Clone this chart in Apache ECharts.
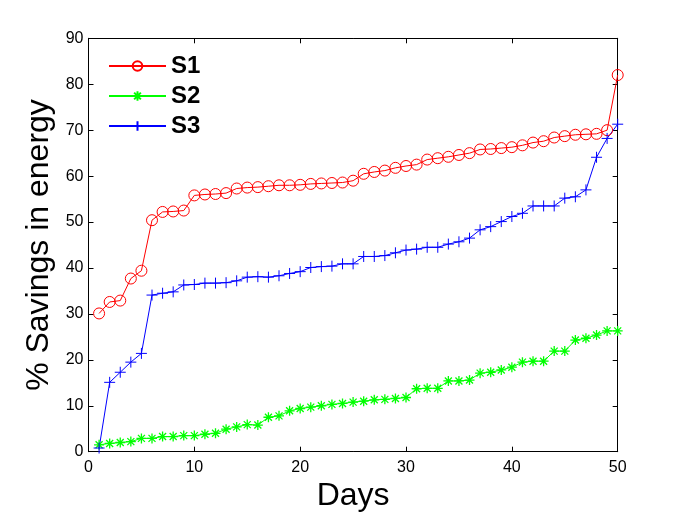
<!doctype html>
<html>
<head>
<meta charset="utf-8">
<title>Savings in energy</title>
<script src="https://cdn.jsdelivr.net/npm/echarts@6/dist/echarts.min.js"></script>
<style>
  html, body { margin: 0; padding: 0; background: #fff; }
  #chart { width: 682px; height: 513px; }
</style>
</head>
<body>
<div id="chart"></div>
<script>
var days = [];
for (var d = 1; d <= 50; d++) days.push(d);

var s1 = [30.1, 32.6, 32.9, 37.7, 39.4, 50.4, 52.2, 52.3, 52.5, 55.8,
          56.0, 56.1, 56.3, 57.3, 57.5, 57.6, 57.8, 58.0, 58.0, 58.1,
          58.3, 58.4, 58.5, 58.6, 59.0, 60.5, 60.9, 61.2, 61.8, 62.2,
          62.5, 63.6, 63.9, 64.2, 64.6, 65.0, 65.8, 65.9, 66.1, 66.3,
          66.7, 67.3, 67.6, 68.4, 68.7, 69.0, 69.1, 69.2, 70.0, 82.0];
var s2 = [1.5, 1.8, 2.0, 2.2, 2.9, 2.9, 3.3, 3.3, 3.5, 3.5,
          3.8, 4.0, 4.9, 5.4, 5.9, 5.8, 7.5, 7.8, 8.9, 9.4,
          9.7, 10.0, 10.3, 10.5, 10.8, 11.0, 11.3, 11.4, 11.6, 11.8,
          13.7, 13.8, 13.8, 15.4, 15.4, 15.6, 17.1, 17.3, 17.8, 18.4,
          19.5, 19.7, 19.7, 21.9, 21.9, 24.3, 24.7, 25.4, 26.3, 26.3];
var s3 = [0.8, 15.1, 17.3, 19.5, 21.4, 34.1, 34.5, 34.8, 36.3, 36.4,
          36.7, 36.7, 36.8, 37.2, 38.0, 38.1, 38.0, 38.3, 38.8, 39.2,
          40.1, 40.3, 40.4, 40.9, 40.9, 42.5, 42.5, 42.7, 43.3, 43.9,
          44.1, 44.5, 44.5, 45.2, 45.7, 46.5, 48.3, 49.0, 50.1, 51.2,
          51.9, 53.5, 53.5, 53.5, 55.2, 55.5, 57.0, 64.1, 68.2, 71.3];

var seriesNames = ["S1", "S2", "S3"];
var xTicks = { min: 0, max: 50, step: 10 };
var yTicks = { min: 0, max: 90, step: 10 };

function pairs(values) {
  return days.map(function (d, i) { return [d, values[i]]; });
}

var font = "Liberation Sans, Arial, Helvetica, sans-serif";
var starPath = "path://M5,0L5,10M0,5L10,5M1.5,1.5L8.5,8.5M8.5,1.5L1.5,8.5";
var plusPath = "path://M5,0L5,10M0,5L10,5";

function frameAxis(pos, range, withLabels, extra) {
  var ax = {
    type: "value",
    position: pos,
    min: range.min,
    max: range.max,
    interval: range.step,
    splitLine: { show: false },
    axisLine: { show: true, onZero: false, lineStyle: { color: "#000", width: 1 } },
    axisTick: { show: true, inside: true, length: 5, lineStyle: { color: "#000" } },
    axisLabel: { show: withLabels, color: "#000", fontSize: 16, fontFamily: font }
  };
  for (var k in extra) ax[k] = extra[k];
  return ax;
}

var chart = echarts.init(document.getElementById("chart"), null, { renderer: "canvas" });
chart.setOption({
  backgroundColor: "#fff",
  animation: false,
  grid: { left: 88.5, right: 64.3, top: 38.3, bottom: 61.3, outerBoundsMode: "none", containLabel: false },
  legend: {
    orient: "vertical",
    left: 108,
    top: 54,
    padding: 0,
    itemWidth: 57,
    itemHeight: 12,
    itemGap: 6,
    textStyle: { fontSize: 24, fontWeight: "bold", color: "#000", fontFamily: font },
    data: seriesNames
  },
  xAxis: [
    frameAxis("bottom", xTicks, true, {
      name: "Days", nameLocation: "middle", nameGap: 26,
      nameTextStyle: { fontSize: 32, color: "#000", fontFamily: font, verticalAlign: "top" },
      axisLabel: { show: true, color: "#000", fontSize: 16, fontFamily: font, margin: 8 }
    }),
    frameAxis("top", xTicks, false, {})
  ],
  yAxis: [
    frameAxis("left", yTicks, true, {
      name: "% Savings in energy", nameLocation: "middle", nameGap: 33,
      nameTextStyle: { fontSize: 32, color: "#000", fontFamily: font },
      axisLabel: { show: true, color: "#000", fontSize: 16, fontFamily: font, margin: 5 }
    }),
    frameAxis("right", yTicks, false, {})
  ],
  series: [
    {
      name: seriesNames[0], type: "line", data: pairs(s1),
      symbol: "circle", symbolSize: 11, showAllSymbol: true,
      lineStyle: { color: "#ff0000", width: 1 },
      itemStyle: { color: "rgba(0,0,0,0)", borderColor: "#ff0000", borderWidth: 1 }
    },
    {
      name: seriesNames[1], type: "line", data: pairs(s2),
      symbol: starPath, symbolSize: 10, showAllSymbol: true,
      lineStyle: { color: "#00ff00", width: 1 },
      itemStyle: { color: "rgba(0,0,0,0)", borderColor: "#00ff00", borderWidth: 1.3 }
    },
    {
      name: seriesNames[2], type: "line", data: pairs(s3),
      symbol: plusPath, symbolSize: 11, showAllSymbol: true,
      lineStyle: { color: "#0000ff", width: 1 },
      itemStyle: { color: "rgba(0,0,0,0)", borderColor: "#0000ff", borderWidth: 1 }
    }
  ]
});
</script>
</body>
</html>
